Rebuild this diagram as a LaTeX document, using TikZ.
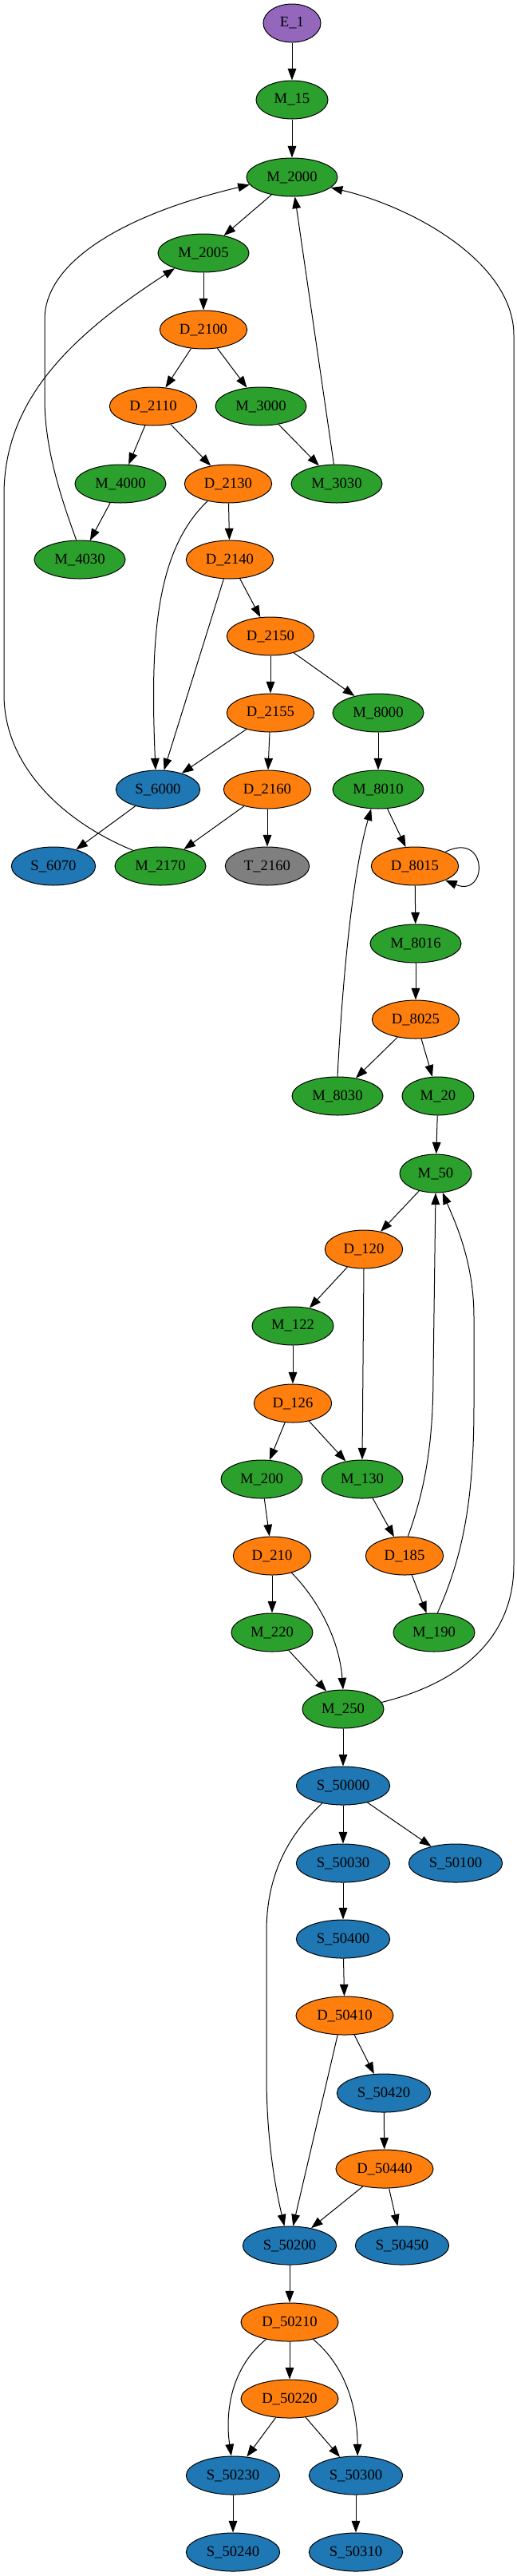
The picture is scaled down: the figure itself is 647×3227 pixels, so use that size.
\documentclass[tikz,border=0pt]{standalone}
\usepackage{fontspec}
\setmainfont{Liberation Serif}
\usetikzlibrary{shapes.geometric,arrows.meta}
\definecolor{cpurple}{HTML}{9467BD}
\definecolor{cgreen}{HTML}{2CA02C}
\definecolor{corange}{HTML}{FF7F0E}
\definecolor{cblue}{HTML}{1F77B4}
\definecolor{cgray}{HTML}{7F7F7F}
\tikzset{
  gv/.style={ellipse, draw=black, line width=0.75pt, inner sep=0pt, minimum height=36pt,
             font=\fontsize{14}{16}\selectfont, text=black},
  ecol/.style={gv, fill=cpurple},
  mcol/.style={gv, fill=cgreen},
  dcol/.style={gv, fill=corange},
  scol/.style={gv, fill=cblue},
  tcol/.style={gv, fill=cgray},
  wthree/.style={minimum width=54pt},
  wfour/.style={minimum width=67.5pt},
  wfiveM/.style={minimum width=76.5pt},
  wfiveD/.style={minimum width=73pt},
  wsixM/.style={minimum width=85.5pt},
  wsixD/.style={minimum width=82pt},
  wsixS/.style={minimum width=79pt},
  wsevS/.style={minimum width=88pt},
  wsevD/.style={minimum width=91.5pt},
  arr/.style={-{Triangle[length=11pt,width=8pt]}, line width=0.75pt, draw=black},
}
\begin{document}
\begin{tikzpicture}[x=0.75pt,y=-0.75pt]
\useasboundingbox (0,0) rectangle (647,3227);
% nodes
\node[ecol,wthree] (e1) at (366,29) {E\_1};
\node[mcol,wfour] (m15) at (366,125) {M\_15};
\node[mcol,wsixM] (m2000) at (366,222) {M\_2000};
\node[mcol,wsixM] (m2005) at (255,317) {M\_2005};
\node[dcol,wsixD] (d2100) at (255,413) {D\_2100};
\node[dcol,wsixD] (d2110) at (192,509) {D\_2110};
\node[mcol,wsixM] (m3000) at (327,509) {M\_3000};
\node[mcol,wsixM] (m4000) at (151,606) {M\_4000};
\node[dcol,wsixD] (d2130) at (286,606) {D\_2130};
\node[mcol,wsixM] (m3030) at (422,606) {M\_3030};
\node[mcol,wsixM] (m4030) at (100,701) {M\_4030};
\node[dcol,wsixD] (d2140) at (288,701) {D\_2140};
\node[dcol,wsixD] (d2150) at (339,797) {D\_2150};
\node[dcol,wsixD] (d2155) at (339,893) {D\_2155};
\node[mcol,wsixM] (m8000) at (474,893) {M\_8000};
\node[scol,wsixS] (s6000) at (198,989) {S\_6000};
\node[dcol,wsixD] (d2160) at (335,989) {D\_2160};
\node[mcol,wsixM] (m8010) at (474,989) {M\_8010};
\node[scol,wsixS] (s6070) at (67,1085) {S\_6070};
\node[mcol,wsixM] (m2170) at (201,1085) {M\_2170};
\node[tcol,wsixS] (t2160) at (335,1085) {T\_2160};
\node[dcol,wsixD] (d8015) at (520,1085) {D\_8015};
\node[mcol,wsixM] (m8016) at (521,1182) {M\_8016};
\node[dcol,wsixD] (d8025) at (521,1277) {D\_8025};
\node[mcol,wsixM] (m8030) at (423,1373) {M\_8030};
\node[mcol,wfour] (m20) at (549,1373) {M\_20};
\node[mcol,wfour] (m50) at (546,1470) {M\_50};
\node[dcol,wfiveD] (d120) at (456,1565) {D\_120};
\node[mcol,wfiveM] (m122) at (367,1661) {M\_122};
\node[dcol,wfiveD] (d126) at (367,1758) {D\_126};
\node[mcol,wfiveM] (m200) at (328,1853) {M\_200};
\node[mcol,wfiveM] (m130) at (454,1853) {M\_130};
\node[dcol,wfiveD] (d210) at (341,1949) {D\_210};
\node[dcol,wfiveD] (d185) at (507,1949) {D\_185};
\node[mcol,wfiveM] (m220) at (341,2045) {M\_220};
\node[mcol,wfiveM] (m190) at (544,2045) {M\_190};
\node[mcol,wfiveM] (m250) at (430,2141) {M\_250};
\node[scol,wsevS] (s50000) at (430,2237) {S\_50000};
\node[scol,wsevS] (s50030) at (430,2334) {S\_50030};
\node[scol,wsevS] (s50100) at (571,2334) {S\_50100};
\node[scol,wsevS] (s50400) at (430,2429) {S\_50400};
\node[dcol,wsevD] (d50410) at (432,2525) {D\_50410};
\node[scol,wsevS] (s50420) at (481,2622) {S\_50420};
\node[dcol,wsevD] (d50440) at (482,2717) {D\_50440};
\node[scol,wsevS] (s50200) at (363,2813) {S\_50200};
\node[scol,wsevS] (s50450) at (504,2813) {S\_50450};
\node[dcol,wsevD] (d50210) at (363,2909) {D\_50210};
\node[dcol,wsevD] (d50220) at (363,3005) {D\_50220};
\node[scol,wsevS] (s50230) at (292,3101) {S\_50230};
\node[scol,wsevS] (s50300) at (446,3101) {S\_50300};
\node[scol,wsevS] (s50240) at (292,3197) {S\_50240};
\node[scol,wsevS] (s50310) at (446,3197) {S\_50310};
% straight edges
\draw[arr] (e1) -- (m15);
\draw[arr] (m15) -- (m2000);
\draw[arr] (m2000) -- (m2005);
\draw[arr] (m2005) -- (d2100);
\draw[arr] (d2100) -- (d2110);
\draw[arr] (d2100) -- (m3000);
\draw[arr] (d2110) -- (m4000);
\draw[arr] (d2110) -- (d2130);
\draw[arr] (m3000) -- (m3030);
\draw[arr] (m3030) -- (m2000);
\draw[arr] (m4000) -- (m4030);
\draw[arr] (d2130) -- (d2140);
\draw[arr] (d2140) -- (d2150);
\draw[arr] (d2140) -- (s6000);
\draw[arr] (d2150) -- (d2155);
\draw[arr] (d2150) -- (m8000);
\draw[arr] (d2155) -- (s6000);
\draw[arr] (d2155) -- (d2160);
\draw[arr] (m8000) -- (m8010);
\draw[arr] (s6000) -- (s6070);
\draw[arr] (d2160) -- (m2170);
\draw[arr] (d2160) -- (t2160);
\draw[arr] (m8010) -- (d8015);
\draw[arr] (d8015) -- (m8016);
\draw[arr] (m8016) -- (d8025);
\draw[arr] (d8025) -- (m8030);
\draw[arr] (d8025) -- (m20);
\draw[arr] (m20) -- (m50);
\draw[arr] (m50) -- (d120);
\draw[arr] (d120) -- (m122);
\draw[arr] (d120.south) -- (m130.north);
\draw[arr] (m122) -- (d126);
\draw[arr] (d126) -- (m200);
\draw[arr] (d126) -- (m130);
\draw[arr] (m130) -- (d185);
\draw[arr] (d185) -- (m190);
\draw[arr] (m200) -- (d210);
\draw[arr] (d210) -- (m220);
\draw[arr] (m220) -- (m250);
\draw[arr] (m250) -- (s50000);
\draw[arr] (s50000) -- (s50030);
\draw[arr] (s50000) -- (s50100);
\draw[arr] (s50030) -- (s50400);
\draw[arr] (s50400) -- (d50410);
\draw[arr] (d50410) -- (s50420);
\draw[arr] (d50410.250) -- (s50200.80);
\draw[arr] (s50420) -- (d50440);
\draw[arr] (d50440) -- (s50200);
\draw[arr] (d50440) -- (s50450);
\draw[arr] (s50200) -- (d50210);
\draw[arr] (d50210) -- (d50220);
\draw[arr] (d50220) -- (s50230);
\draw[arr] (d50220) -- (s50300);
\draw[arr] (s50230) -- (s50240);
\draw[arr] (s50300) -- (s50310);
% curved edges
\draw[arr] (m4030.100) .. controls (75,620) and (56,560) .. (56,500) -- (56,400)
  .. controls (56,330) and (150,270) .. (m2000.190);
\draw[arr] (m2170.150) .. controls (80,1030) and (5,960) .. (5,870) -- (5,620)
  .. controls (5,500) and (90,420) .. (m2005.208);
\draw[arr] (d2130.220) .. controls (195,690) and (188,800) .. (s6000.97);
\draw[arr] (m8030.north) .. controls (428,1250) and (440,1100) .. (m8010.250);
\draw[arr] (d8015.25) .. controls (612,1040) and (612,1125) .. (d8015.-25);
\draw[arr] (d185.80) .. controls (535,1860) and (543,1800) .. (543,1720) -- (m50.270);
\draw[arr] (m190.80) .. controls (580,1950) and (594,1880) .. (594,1760) -- (594,1650)
  .. controls (594,1580) and (570,1530) .. (m50.290);
\draw[arr] (d210.-41) .. controls (395,2000) and (425,2050) .. (m250.north);
\draw[arr] (m250.10) .. controls (550,2115) and (644,2070) .. (644,1960) -- (644,420)
  .. controls (644,330) and (520,260) .. (m2000.-15);
\draw[arr] (s50000.220) .. controls (360,2300) and (334,2350) .. (334,2420) -- (334,2600)
  .. controls (334,2680) and (345,2740) .. (s50200.105);
\draw[arr] (d50210.216) .. controls (285,2970) and (283,3030) .. (s50230.95);
\draw[arr] (d50210.-36) .. controls (440,2970) and (448,3030) .. (s50300.85);
\end{tikzpicture}
\end{document}
